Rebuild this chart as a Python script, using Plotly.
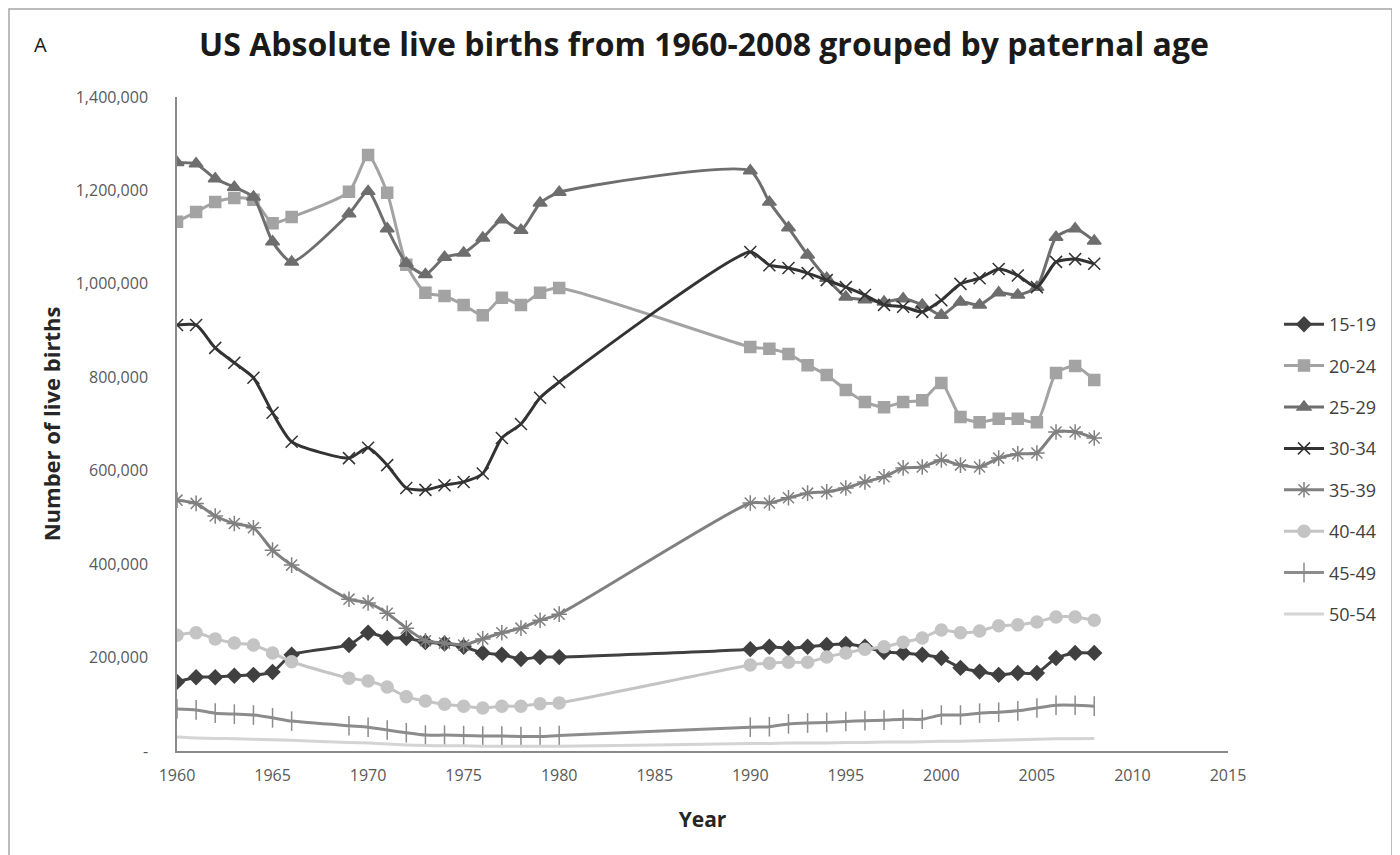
import plotly.graph_objects as go

years = [1960, 1961, 1962, 1963, 1964, 1965, 1966,
         1969, 1970, 1971, 1972, 1973, 1974, 1975, 1976, 1977, 1978, 1979, 1980,
         1990, 1991, 1992, 1993, 1994, 1995, 1996, 1997, 1998, 1999,
         2000, 2001, 2002, 2003, 2004, 2005, 2006, 2007, 2008]

age_15_19 = [148, 158, 158, 161, 163, 169, 206,
             227, 253, 242, 242, 233, 230, 223, 210, 206, 197, 201, 201,
             218, 223, 220, 223, 227, 229, 223, 212, 210, 206,
             199, 178, 170, 163, 167, 167, 199, 210, 210]
age_20_24 = [1133, 1154, 1175, 1184, 1180, 1130, 1143,
             1197, 1276, 1195, 1041, 981, 974, 955, 933, 970, 955, 981, 991,
             865, 861, 850, 826, 805, 773, 747, 736, 747, 751,
             788, 715, 704, 711, 711, 704, 809, 824, 794]
age_25_29 = [1260, 1257, 1225, 1207, 1186, 1090, 1047,
             1150, 1198, 1118, 1044, 1020, 1057, 1066, 1098, 1137, 1115, 1173, 1196,
             1242, 1175, 1120, 1062, 1012, 972, 966, 961, 968, 955,
             933, 961, 955, 981, 976, 993, 1100, 1118, 1092]
age_30_34 = [912, 912, 863, 831, 799, 724, 662,
             627, 649, 612, 563, 559, 569, 576, 594, 670, 700, 756, 790,
             1068, 1040, 1034, 1023, 1008, 993, 976, 955, 951, 940,
             965, 1000, 1012, 1032, 1018, 993, 1047, 1053, 1043]
age_35_39 = [537, 530, 503, 487, 478, 430, 398,
             325, 317, 295, 263, 236, 231, 227, 240, 253, 263, 280, 293,
             531, 531, 542, 552, 555, 563, 576, 587, 606, 608,
             623, 612, 608, 627, 636, 638, 683, 683, 670]
age_40_44 = [248, 253, 240, 231, 227, 210, 191,
             156, 150, 137, 116, 107, 100, 96, 92, 96, 96, 101, 103,
             184, 188, 190, 190, 201, 210, 218, 223, 233, 242,
             259, 253, 257, 268, 270, 276, 287, 287, 280]
age_45_49 = [90, 88, 81, 79, 77, 71, 64,
             54, 51, 45, 39, 34, 34, 33, 32, 32, 31, 31, 33,
             51, 52, 58, 60, 61, 63, 65, 66, 68, 68,
             77, 77, 81, 83, 86, 92, 98, 98, 96]
age_50_54 = [30, 28, 27, 26, 25, 24, 23,
             18, 17, 15, 13, 12, 11, 11, 10, 10, 10, 10, 10,
             16, 16, 17, 17, 17, 18, 18, 19, 19, 20,
             21, 21, 22, 23, 24, 25, 26, 26, 27]

series_names = ["15-19", "20-24", "25-29", "30-34", "35-39", "40-44", "45-49", "50-54"]
series_values = [age_15_19, age_20_24, age_25_29, age_30_34, age_35_39, age_40_44, age_45_49, age_50_54]
colors = ["#404040", "#a3a3a3", "#6e6e6e", "#333333", "#808080", "#c4c4c4", "#8c8c8c", "#d4d4d4"]
symbols = ["diamond", "square", "triangle-up", "x-thin-open", "asterisk-open", "circle", "line-ns-open", None]
msizes = [11, 11, 12, 12, 13, 12, 14, 0]

y_tickvals = [0, 200000, 400000, 600000, 800000, 1000000, 1200000, 1400000]
y_ticktext = ["-", "200,000", "400,000", "600,000", "800,000", "1,000,000", "1,200,000", "1,400,000"]
x_tickvals = [1960, 1965, 1970, 1975, 1980, 1985, 1990, 1995, 2000, 2005, 2010, 2015]

fig = go.Figure()
for name, vals, col, sym, ms in zip(series_names, series_values, colors, symbols, msizes):
    yv = [v * 1000 for v in vals]
    if sym is None:
        fig.add_trace(go.Scatter(x=years, y=yv, name=name, mode="lines",
                                 line=dict(color=col, width=3, shape="spline", smoothing=0.6),
                                 legendgroup=name))
    else:
        fig.add_trace(go.Scatter(x=years, y=yv, name=name, mode="lines+markers",
                                 line=dict(color=col, width=3, shape="spline", smoothing=0.6),
                                 marker=dict(symbol=sym, size=ms, color=col,
                                             line=dict(color=col, width=1.5)),
                                 legendgroup=name))

# page offset of the plotly div (browser body margin)
OFF = 8
W, H = 1392, 847
# desired plot area in page pixels
PL, PR, PT, PB = 177, 1228, 97, 751
L, T = PL - OFF, PT - OFF
R = W + OFF - PR
B = H + OFF - PB
pw, ph = PR - PL, PB - PT

def px_x(p):
    return (p - PL) / pw

def px_y(p):
    return (PB - p) / ph

fig.update_layout(
    width=W, height=H,
    margin=dict(l=L, r=R, t=T, b=B, autoexpand=False),
    paper_bgcolor="white", plot_bgcolor="white",
    font=dict(family="Open Sans, sans-serif", color="#595959"),
    title=dict(text="<b>US Absolute live births from 1960-2008 grouped by paternal age</b>",
               x=0.5, xanchor="center", y=1 - (45 - OFF) / H, yanchor="middle",
               font=dict(size=32, color="#1a1a1a", family="Open Sans, sans-serif")),
    xaxis=dict(range=[1960, 2015], tickvals=x_tickvals, showgrid=False, zeroline=False,
               showline=True, linecolor="#8a8a8a", linewidth=1.5,
               tickfont=dict(size=16, color="#595959"), ticks="", ticklabelstandoff=9,
               title=dict(text="<b>Year</b>", font=dict(size=21, color="#262626"), standoff=27)),
    yaxis=dict(range=[0, 1400000], tickvals=y_tickvals, ticktext=y_ticktext,
               showgrid=False, zeroline=False, showline=True, linecolor="#8a8a8a", linewidth=1.5,
               tickfont=dict(size=16, color="#595959"), ticks="", ticklabelstandoff=24,
               title=dict(text="<b>Number of live births</b>", font=dict(size=22, color="#262626"),
                          standoff=9)),
    legend=dict(x=px_x(1279), y=px_y(306), xanchor="left", yanchor="top",
                font=dict(size=18, color="#404040"), tracegroupgap=15,
                bgcolor="rgba(0,0,0,0)", itemwidth=40),
    showlegend=True,
)

fig.add_shape(type="rect", xref="paper", yref="paper",
              x0=px_x(9), x1=px_x(1392), y0=px_y(880), y1=px_y(9),
              line=dict(color="#a6a6a6", width=1.5), fillcolor="rgba(0,0,0,0)", layer="below")
fig.add_annotation(text="A", xref="paper", yref="paper", x=px_x(40), y=px_y(45),
                   xanchor="center", yanchor="middle", showarrow=False,
                   font=dict(size=20, color="#1a1a1a", family="Open Sans, sans-serif"))

fig.write_html("out.html")
